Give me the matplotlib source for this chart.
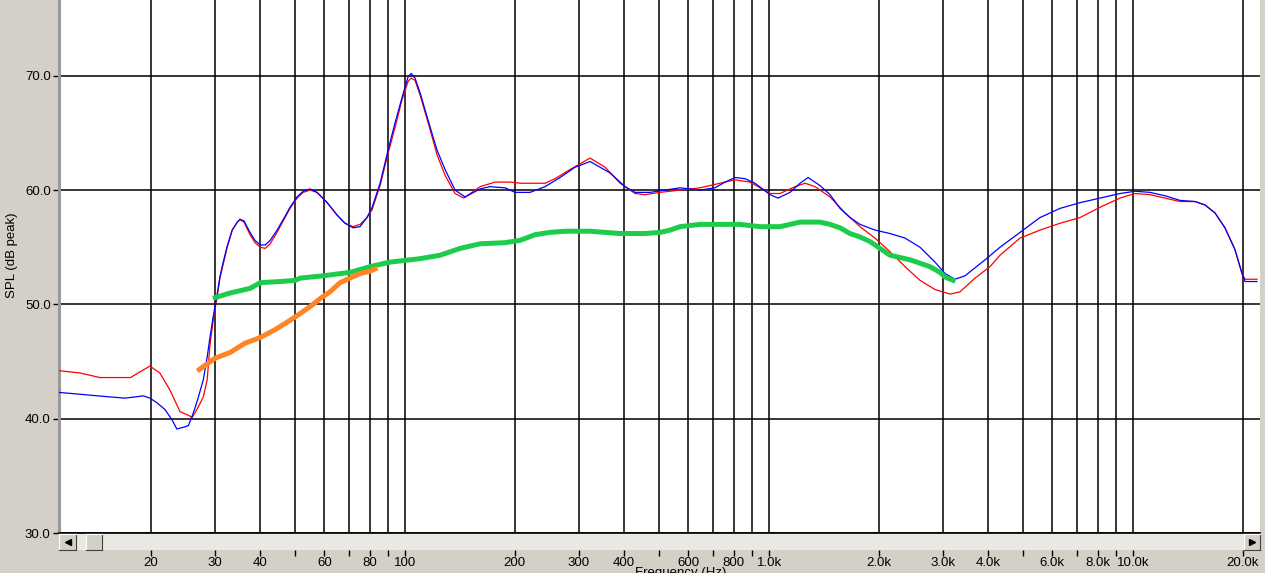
import numpy as np
import matplotlib
matplotlib.use("Agg")
import matplotlib.pyplot as plt
from matplotlib.ticker import FixedLocator, NullLocator, FormatStrFormatter

plt.rcParams['font.family'] = ['Liberation Sans', 'DejaVu Sans']

# measured responses (Hz, dB)
blue_freq = [11.2, 13.2, 15.5, 17.0, 18.1, 19.1, 19.9, 20.8, 21.9, 22.9, 23.6, 24.9, 25.4,
             26.2, 27.0, 27.9, 28.6, 29.1, 29.7, 30.5, 31.0, 31.6, 32.4, 33.5, 34.6, 35.2,
             36.1, 37.5, 38.7, 40.0, 41.3, 42.6, 44.5, 46.8, 48.3, 50.5, 52.5, 54.8, 57.3,
             61.1, 65.1, 68.4, 72.0, 75.2, 78.6, 81.2,
             85.4, 89.8, 93.9, 98.1, 101.9, 103.9, 106.5, 110.0, 115.7, 122.4, 128.8, 137.2,
             146.2, 160.7, 171.2, 188.2, 200.5, 220.5, 242.5, 266.6, 293.1, 322.3, 365.9,
             402.2, 428.5, 471.1, 517.9, 569.3, 646.3, 710.5, 757, 806.5, 859, 915, 1006,
             1058, 1142, 1217, 1280, 1380, 1471, 1567, 1669, 1778, 1955, 2150, 2364, 2599,
             2858, 3045, 3243, 3455, 3681, 3922, 4311, 4893, 5553, 6302, 7153, 8118, 9212,
             10127, 11135, 12246, 13460, 14800, 15770, 16800, 17890, 19055, 19930, 20310, 21910]
blue_db = [42.3, 42.1, 41.9, 41.8, 41.9, 42.0, 41.8, 41.4, 40.8, 39.9, 39.1, 39.3, 39.4,
           40.5, 41.8, 43.4, 45.4, 47.1, 48.9, 51.0, 52.4, 53.6, 55.0, 56.5, 57.2, 57.45,
           57.3, 56.3, 55.6, 55.2, 55.2, 55.6, 56.5, 57.7, 58.5, 59.4, 59.9, 60.1, 59.8,
           58.9, 57.8, 57.1, 56.7, 56.8, 57.6, 58.5,
           60.6, 63.5, 65.9, 68.1, 69.9, 70.2, 69.8, 68.5, 66.1, 63.5, 61.8, 60.0,
           59.4, 60.1, 60.3, 60.2, 59.8, 59.8, 60.3, 61.1, 62.0, 62.5, 61.5,
           60.3, 59.8, 59.8, 60.0, 60.2, 60.0, 60.2, 60.7, 61.1, 61.0, 60.6, 59.6,
           59.3, 59.8, 60.6, 61.1, 60.4, 59.6, 58.4, 57.6, 57.0, 56.5, 56.2, 55.8, 55.0,
           53.7, 52.7, 52.2, 52.5, 53.2, 53.9, 55.0, 56.3, 57.6, 58.4, 58.9, 59.3, 59.7,
           59.9, 59.8, 59.5, 59.1, 59.0, 58.7, 58.0, 56.7, 54.8, 52.7, 52.0, 52.0]

red_freq = [11.2, 12.8, 14.5, 16.3, 17.6, 18.7, 19.9, 21.2, 22.6, 24.1, 25.4, 26.0, 27.0,
            27.9, 28.6, 29.1, 29.7, 30.5, 31.0, 32.4, 33.5, 34.6, 35.2, 36.1, 37.5, 38.7,
            40.0, 41.3, 42.6, 44.5, 46.8, 48.3, 50.5, 52.5, 54.8, 57.3, 61.1, 65.1, 68.4,
            72.0, 75.2, 78.6, 81.2, 85.4, 89.8, 93.9, 98.1, 101.9, 103.9,
            106.5, 110.0, 115.7, 122.4, 128.8, 137.2, 145.0, 160.7, 176.7, 194.3, 207,
            242.5, 258.3, 283.9, 322.3, 354.5, 389.7, 428.5, 456.4, 501.8, 569.3, 646.3,
            733.5, 806.5, 887, 1006, 1072, 1179, 1256, 1338, 1471, 1618, 1778, 1955, 2150,
            2364, 2599, 2858, 3143, 3347, 3681, 4046, 4311, 4893, 5553, 6302, 7153, 8118,
            9212, 10127, 11135, 12246, 13460, 14800, 15770, 16800, 17890, 19055, 19930,
            20310, 21910]
red_db = [44.2, 44.0, 43.6, 43.6, 43.6, 44.1, 44.6, 44.0, 42.5, 40.6, 40.3, 40.1, 41.0,
          41.9, 43.4, 46.4, 48.6, 50.8, 52.3, 54.9, 56.5, 57.2, 57.4, 57.2, 56.1, 55.4,
          55.0, 54.9, 55.3, 56.3, 57.6, 58.4, 59.3, 59.8, 60.0, 59.8, 58.9, 57.8, 57.1,
          56.8, 57.0, 57.6, 58.3, 60.4, 63.2, 65.5, 67.9, 69.5, 69.8,
          69.6, 68.3, 65.9, 63.1, 61.3, 59.7, 59.3, 60.3, 60.7, 60.7, 60.6,
          60.6, 61.0, 61.8, 62.8, 62.0, 60.6, 59.7, 59.6, 59.8, 60.0, 60.2,
          60.6, 60.9, 60.7, 59.7, 59.7, 60.3, 60.6, 60.3, 59.4, 58.0, 56.8, 55.8, 54.6,
          53.3, 52.1, 51.3, 50.9, 51.1, 52.3, 53.3, 54.3, 55.8, 56.5, 57.1, 57.6, 58.5,
          59.3, 59.7, 59.6, 59.3, 59.0, 59.0, 58.7, 58.0, 56.7, 54.8, 52.7,
          52.2, 52.2]

green_freq = [30.1, 33.1, 37.5, 40.0, 45.4, 49.9, 51.5, 59.5, 70.6, 80.1, 90.9, 110.0, 124.8,
              141.6, 160.7, 188.2, 207, 227.6, 250.2, 275.2, 322.3, 389.7, 456.4, 501.8,
              534.6, 569.3, 606.6, 646.3, 832, 944, 1072, 1217, 1380, 1471, 1567, 1669,
              1778, 1894, 2018, 2150, 2291, 2440, 2599, 2769, 2950, 3045, 3203]
green_db = [50.6, 51.0, 51.4, 51.9, 52.0, 52.1, 52.3, 52.5, 52.8, 53.3, 53.7, 54.0, 54.3,
            54.9, 55.3, 55.4, 55.6, 56.1, 56.3, 56.4, 56.4, 56.2, 56.2, 56.3,
            56.5, 56.8, 56.9, 57.0, 57.0, 56.8, 56.8, 57.2, 57.2, 57.0, 56.7, 56.2,
            55.9, 55.5, 54.9, 54.3, 54.1, 53.9, 53.6, 53.3, 52.8, 52.4, 52.1]

orange_freq = [27.2, 30.1, 33.1, 36.3, 40.0, 44.0, 48.3, 51.5, 54.8, 58.4, 62.2, 66.3,
               70.6, 75.2, 80.1, 82.7]
orange_db = [44.3, 45.3, 45.8, 46.6, 47.1, 47.8, 48.6, 49.2, 49.8, 50.5, 51.1, 51.9,
             52.3, 52.7, 52.9, 53.1]

grid_freqs = [20, 30, 40, 50, 60, 70, 80, 90, 100, 200, 300, 400, 500, 600, 700, 800, 900,
              1000, 2000, 3000, 4000, 5000, 6000, 7000, 8000, 9000, 10000, 20000]
grid_labels = ['20', '30', '40', '', '60', '', '80', '', '100', '200', '300', '400', '',
               '600', '', '800', '', '1.0k', '2.0k', '3.0k', '4.0k', '', '6.0k', '', '8.0k',
               '', '10.0k', '20.0k']
db_ticks = [30, 40, 50, 60, 70]

W, H = 1265, 573
bg = '#D4D0C8'


def px(x0, y0, x1, y1):
    # pixel box (top-left origin) -> figure fraction rect
    return [x0 / W, 1 - y1 / H, (x1 - x0) / W, (y1 - y0) / H]


fig = plt.figure(figsize=(W / 100, H / 100), dpi=100, facecolor=bg)

ax = fig.add_axes(px(59, 0, 1260, 533))
ax.set_facecolor('white')
ax.set_xscale('log')
ax.set_xlim(11.2, 22330)
ax.set_ylim(30, 76.63)

ax.plot(red_freq, red_db, color='#FF0000', lw=0.9, zorder=3)
ax.plot(blue_freq, blue_db, color='#0000FF', lw=0.9, zorder=4)
ax.plot(green_freq, green_db, color='#1ECC4C', lw=3.6, zorder=5)
ax.plot(orange_freq, orange_db, color='#FF8426', lw=3.6, zorder=5)

ax.xaxis.set_major_locator(FixedLocator(grid_freqs))
ax.xaxis.set_minor_locator(NullLocator())
ax.tick_params(axis='x', length=0, labelbottom=False)
ax.set_yticks(db_ticks)
ax.yaxis.set_major_formatter(FormatStrFormatter('%.1f'))
ax.tick_params(axis='y', length=4, width=1, direction='out', pad=2, labelsize=9.5,
               colors='black')
ax.grid(True, color='black', lw=1.1)
for s in ['top', 'right', 'bottom']:
    ax.spines[s].set_visible(False)
ax.spines['left'].set_color('#9A9A9A')
ax.spines['left'].set_linewidth(2.2)

# scrollbar strip under the plot
sb = fig.add_axes(px(59, 533, 1260, 550))
sb.set_facecolor('#EAE8E4')
sb.set_xscale('log')
sb.set_xlim(ax.get_xlim())
sb.set_yticks([])
sb.xaxis.set_major_locator(FixedLocator(grid_freqs))
sb.xaxis.set_minor_locator(NullLocator())
sb.set_xticklabels(grid_labels)
sb.tick_params(axis='x', length=4, width=1, direction='out', pad=1, labelsize=9.5,
               colors='black')
for s in ['left', 'right', 'bottom']:
    sb.spines[s].set_visible(False)
sb.spines['top'].set_color('black')
sb.spines['top'].set_linewidth(1.2)

for (x0, x1, mk) in [(59, 76, '<'), (86, 102, None), (1244, 1260, '>')]:
    b = fig.add_axes(px(x0, 534, x1, 550))
    b.set_facecolor(bg)
    b.set_xticks([])
    b.set_yticks([])
    for s in ['left', 'top']:
        b.spines[s].set_color('white')
    for s in ['right', 'bottom']:
        b.spines[s].set_color('#404040')
    if mk:
        b.plot([0.5], [0.5], marker=mk, color='black', ms=4.5)
        b.set_xlim(0, 1)
        b.set_ylim(0, 1)

fig.text(12 / W, 1 - 255 / H, 'SPL (dB peak)', rotation=90, ha='center', va='center',
         fontsize=9.5)
fig.text(681 / W, 1 - 567 / H, 'Frequency (Hz)', ha='center', va='top', fontsize=9.5)

fig.savefig('out.png', dpi=100, facecolor=bg)
